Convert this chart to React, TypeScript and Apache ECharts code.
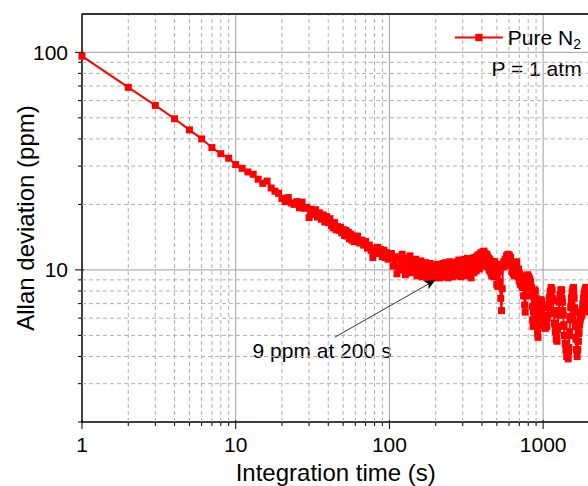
import React, { useEffect, useRef } from "react";
import * as echarts from "echarts";

const SERIES_NAME = "Pure N2";

// [integration time (s), Allan deviation (ppm)], in segments
const SEG_1_TO_24: [number, number][] = [
  [1, 96], [2, 69], [3, 57], [4, 49.5], [5, 44], [6, 40], [7, 36.5], [8, 34.2], [9, 32.6], [10, 30.5],
  [11, 29.3], [12, 28.2], [13, 27.5], [14, 26.1], [15, 25.0], [16, 25.6], [17, 23.8], [18, 23.0], [19, 22.5], [20, 21.3],
  [21, 20.6], [22, 21.5], [23, 20.3], [24, 20.0],
];
const SEG_25_TO_100: [number, number][] = [
  [25, 20.6], [26, 19.3], [27, 20.5], [28, 19.2], [29, 19.4], [30, 17.4], [31, 19.0], [32, 18.0], [33, 18.9], [34, 17.5],
  [35, 18.3], [36, 17.1], [37, 17.9], [38, 16.6], [39, 17.6], [40, 16.5], [41, 17.2], [42, 16.0], [43, 15.6], [44, 16.5],
  [45, 15.3], [46, 15.8], [47, 15.2], [48, 15.7], [49, 14.8], [50, 15.3], [51, 14.4], [52, 15.2], [53, 14.3], [54, 14.9],
  [55, 13.9], [56, 14.6], [57, 13.7], [58, 14.3], [59, 13.5], [60, 14.0], [62, 14.3], [64, 13.3], [66, 13.7], [68, 13.0],
  [70, 13.5], [72, 12.6], [74, 13.0], [76, 12.3], [78, 11.4], [80, 12.6], [82, 11.9], [84, 12.7], [86, 12.0], [88, 12.4],
  [90, 11.5], [92, 12.3], [94, 11.4], [96, 12.0], [98, 11.2], [100, 11.6],
];
const SEG_100_TO_500: [number, number][] = [
  [103, 11.9], [106, 10.4], [109, 11.5], [112, 9.6], [115, 11.2], [118, 10.0], [121, 11.8], [124, 10.5], [127, 9.5], [130, 11.3],
  [133, 10.2], [136, 11.6], [139, 9.7], [142, 10.9], [145, 9.9], [148, 11.2], [151, 9.4], [154, 10.6], [157, 10.0], [160, 11.0],
  [163, 9.3], [166, 10.5], [169, 9.7], [172, 10.8], [175, 9.2], [178, 10.4], [181, 9.6], [184, 10.7], [187, 9.2], [190, 10.2],
  [193, 9.4], [196, 10.5], [199, 9.2], [202, 9.9], [205, 10.6], [208, 9.3], [211, 10.1], [214, 9.2], [217, 10.4], [220, 9.5],
  [223, 10.7], [226, 9.3], [229, 10.0], [232, 10.8], [235, 9.5], [238, 10.4], [241, 9.2], [244, 10.2], [247, 10.9], [250, 9.6],
  [253, 10.5], [256, 9.3], [259, 10.3], [262, 9.5], [265, 10.8], [268, 9.7], [271, 10.5], [274, 9.4], [277, 10.9], [280, 9.8],
  [283, 11.1], [286, 9.5], [289, 10.6], [292, 9.3], [295, 11.0], [298, 9.9], [301, 10.8], [304, 9.5], [307, 11.2], [310, 10.0],
  [313, 9.4], [316, 10.9], [319, 9.8], [322, 11.3], [325, 10.1], [328, 9.4], [331, 11.0], [334, 9.9], [337, 11.2], [340, 9.2],
  [343, 10.7], [346, 11.3], [349, 9.9], [352, 11.1], [355, 9.7], [358, 11.4], [361, 10.2], [364, 11.2], [367, 9.9], [370, 11.5],
  [373, 10.3], [376, 11.7], [379, 10.5], [382, 11.4], [385, 10.1], [388, 11.8], [391, 10.6], [394, 12.0], [397, 10.8], [400, 11.9],
  [403, 10.6], [406, 12.1], [409, 11.0], [412, 12.2], [415, 10.9], [418, 11.9], [421, 10.5], [424, 11.6], [427, 10.4], [430, 11.8],
  [433, 10.6], [436, 11.5], [439, 10.3], [442, 11.3], [445, 10.0], [448, 11.2], [451, 9.9], [454, 11.0], [457, 9.7], [460, 10.8],
  [463, 9.4], [466, 10.6], [469, 10.9], [472, 9.6], [475, 10.7], [478, 9.3], [481, 10.5], [484, 10.9], [487, 9.8], [490, 10.6],
  [493, 9.5], [496, 10.4], [499, 8.6],
];
const SEG_500_TO_1000: [number, number][] = [
  [500, 10.2], [506, 8.4], [512, 9.8], [518, 10.6], [524, 8.8], [530, 7.4], [536, 6.5], [542, 8.2], [548, 10.3], [554, 10.9],
  [560, 10.4], [566, 11.2], [572, 10.6], [578, 11.6], [584, 10.9], [590, 11.8], [596, 11.1], [602, 11.7], [608, 10.8], [614, 11.4],
  [620, 10.5], [626, 9.8], [632, 10.6], [638, 9.6], [644, 10.4], [650, 9.4], [656, 10.3], [662, 10.8], [668, 10.2], [674, 10.9],
  [680, 10.0], [686, 9.3], [692, 10.1], [698, 8.9], [704, 9.6], [710, 8.6], [716, 9.4], [722, 8.5], [728, 9.2], [734, 8.3],
  [740, 8.9], [746, 7.6], [752, 8.4], [758, 6.9], [764, 6.4], [770, 7.6], [776, 8.6], [782, 9.3], [788, 8.7], [794, 9.5],
  [800, 8.9], [806, 9.3], [812, 8.6], [818, 9.1], [824, 8.2], [830, 8.8], [836, 7.6], [842, 8.3], [848, 6.8], [854, 5.9],
  [860, 5.5], [866, 6.4], [872, 7.5], [878, 8.1], [884, 7.3], [890, 8.0], [896, 6.9], [902, 7.4], [908, 6.2], [914, 5.6],
  [920, 5.1], [926, 4.9], [932, 5.5], [938, 6.4], [944, 7.0], [950, 6.2], [956, 7.2], [962, 6.6], [968, 7.3], [974, 6.5],
  [980, 7.2], [986, 6.1], [992, 6.7], [998, 5.8],
];
const SEG_1000_TO_2000: [number, number][] = [
  [1000, 6.0], [1008, 5.6], [1016, 5.9], [1024, 5.4], [1032, 5.7], [1040, 5.4], [1048, 5.8], [1056, 5.5], [1064, 6.0], [1072, 6.2],
  [1080, 6.7], [1088, 6.9], [1096, 7.4], [1104, 7.5], [1112, 8.0], [1120, 7.8], [1128, 8.3], [1136, 8.0], [1144, 8.1], [1152, 7.4],
  [1160, 7.2], [1168, 6.5], [1176, 6.3], [1184, 5.7], [1192, 5.6], [1200, 5.2], [1208, 5.2], [1216, 4.8], [1224, 4.9], [1232, 4.7],
  [1240, 5.3], [1248, 5.5], [1256, 6.2], [1264, 6.5], [1272, 7.1], [1280, 7.2], [1288, 7.7], [1296, 7.7], [1304, 8.1], [1312, 8.0],
  [1320, 8.1], [1328, 7.4], [1336, 7.1], [1344, 6.5], [1352, 6.2], [1360, 5.6], [1368, 5.5], [1376, 5.0], [1384, 5.0], [1392, 4.6],
  [1400, 4.6], [1408, 4.3], [1416, 4.3], [1424, 4.0], [1432, 4.2], [1440, 4.0], [1448, 4.1], [1456, 3.9], [1464, 4.2], [1472, 4.4],
  [1480, 5.0], [1488, 5.2], [1496, 5.9], [1504, 6.1], [1512, 6.7], [1520, 6.9], [1528, 7.4], [1536, 7.5], [1544, 7.9], [1552, 7.9],
  [1560, 8.2], [1568, 8.1], [1576, 8.3], [1584, 7.9], [1592, 7.4], [1600, 6.7], [1608, 6.4], [1616, 5.7], [1624, 5.5], [1632, 4.9],
  [1640, 4.8], [1648, 4.3], [1656, 4.3], [1664, 4.0], [1672, 4.3], [1680, 4.3], [1688, 4.7], [1696, 4.7], [1704, 5.1], [1712, 5.2],
  [1720, 5.6], [1728, 5.6], [1736, 6.0], [1744, 5.9], [1752, 6.2], [1760, 6.1], [1768, 6.4], [1776, 6.2], [1784, 6.3], [1792, 6.2],
  [1800, 6.6], [1808, 6.6], [1816, 7.0], [1824, 7.0], [1832, 7.4], [1840, 7.4], [1848, 7.7], [1856, 7.7], [1864, 8.0], [1872, 7.9],
  [1880, 8.2], [1888, 8.1], [1896, 8.3], [1904, 8.1], [1912, 8.2], [1920, 8.1], [1928, 8.3], [1936, 8.1], [1944, 8.2], [1952, 7.9],
  [1960, 7.7], [1968, 7.1], [1976, 7.0], [1984, 6.6], [1992, 6.7], [2000, 6.4],
];

const X_MIN = 1;
const X_MAX = 2000;
const Y_MIN = 2;
const Y_MAX = 150;
const X_MAJOR = [1, 10, 100, 1000];
const X_MINOR = [2, 3, 4, 5, 6, 7, 8, 9, 20, 30, 40, 50, 60, 70, 80, 90, 200, 300, 400, 500, 600, 700, 800, 900];
const Y_MAJOR = [10, 100];
const Y_MINOR = [2, 3, 4, 5, 6, 7, 8, 9, 20, 30, 40, 50, 60, 70, 80, 90];
const X_LABELS = ["1", "10", "100", "1000"];
const Y_LABELS = ["10", "100"];

const ARROW_FROM: [number, number] = [44, 4.9];
const ARROW_TO: [number, number] = [200, 9];
const NOTE = "9 ppm at 200 s";
const COND = "P = 1 atm";

const FONT = "'Liberation Sans', Arial, sans-serif";

function isLabel(v: number, labels: string[]) {
  return labels.some((l) => Math.abs(Number(l) - v) / Number(l) < 1e-6);
}

export default function App() {
  const ref = useRef<HTMLDivElement>(null);
  useEffect(() => {
    if (!ref.current) return;
    const chart = echarts.init(ref.current, undefined, { renderer: "svg" });
    const points = [
      ...SEG_1_TO_24,
      ...SEG_25_TO_100,
      ...SEG_100_TO_500,
      ...SEG_500_TO_1000,
      ...SEG_1000_TO_2000,
    ];

    const gridRender = (_params: any, api: any) => {
      const children: any[] = [];
      const minorStyle = { stroke: "#b0b0b0", lineWidth: 1, lineDash: [4, 3] };
      const majorStyle = { stroke: "#a0a0a0", lineWidth: 1 };
      const tickStyle = { stroke: "#000", lineWidth: 1 };
      const add = (a: number[], b: number[], style: any) =>
        children.push({ type: "line", shape: { x1: a[0], y1: a[1], x2: b[0], y2: b[1] }, style });
      X_MINOR.forEach((v) => {
        const a = api.coord([v, Y_MIN]);
        const b = api.coord([v, Y_MAX]);
        add(a, b, minorStyle);
        add(a, [a[0], a[1] + 4], tickStyle);
      });
      X_MAJOR.forEach((v) => {
        const a = api.coord([v, Y_MIN]);
        const b = api.coord([v, Y_MAX]);
        if (v !== X_MIN) add(a, b, majorStyle);
        add([a[0], a[1] - 2], [a[0], a[1] + 7], tickStyle);
      });
      Y_MINOR.forEach((v) => {
        const a = api.coord([X_MIN, v]);
        const b = api.coord([X_MAX, v]);
        if (v !== Y_MIN) add(a, b, minorStyle);
        add(a, [a[0] - 4, a[1]], tickStyle);
      });
      Y_MAJOR.forEach((v) => {
        const a = api.coord([X_MIN, v]);
        const b = api.coord([X_MAX, v]);
        add(a, b, majorStyle);
        add([a[0] + 2, a[1]], [a[0] - 7, a[1]], tickStyle);
      });
      const t0 = api.coord([X_MIN, Y_MAX]);
      const t1 = api.coord([X_MAX, Y_MAX]);
      add(t0, t1, { stroke: "#333", lineWidth: 2 });
      return { type: "group", children };
    };

    chart.setOption({
      animation: false,
      backgroundColor: "#fff",
      textStyle: { fontFamily: FONT },
      grid: { left: 82, top: 14, right: -1.4, bottom: 64, containLabel: false, outerBoundsMode: "none" },
      legend: {
        right: 2,
        top: 22,
        itemWidth: 48,
        itemHeight: 9,
        data: [SERIES_NAME],
        formatter: () => "{main|Pure N}{sub|2}",
        textStyle: {
          fontFamily: FONT,
          color: "#000",
          rich: {
            main: { fontSize: 21, lineHeight: 26, fontFamily: FONT, color: "#000" },
            sub: { fontSize: 14, lineHeight: 8, verticalAlign: "bottom", fontFamily: FONT, color: "#000" },
          },
        },
      },
      xAxis: {
        type: "log",
        logBase: 10,
        min: X_MIN,
        max: X_MAX,
        name: "Integration time (s)",
        nameLocation: "middle",
        nameGap: 38,
        nameMoveOverlap: false,
        nameTextStyle: { fontSize: 24, color: "#000", fontFamily: FONT },
        axisLine: { show: true, lineStyle: { color: "#000", width: 1.5 } },
        axisTick: { show: false },
        splitLine: { show: false },
        axisLabel: {
          fontSize: 21,
          color: "#000",
          margin: 12,
          fontFamily: FONT,
          formatter: (v: number) => (isLabel(v, X_LABELS) ? String(Math.round(v)) : ""),
        },
      },
      yAxis: {
        type: "log",
        logBase: 10,
        min: Y_MIN,
        max: Y_MAX,
        name: "Allan deviation (ppm)",
        nameLocation: "middle",
        nameGap: 45,
        nameMoveOverlap: false,
        nameTextStyle: { fontSize: 24, color: "#000", fontFamily: FONT },
        axisLine: { show: true, lineStyle: { color: "#000", width: 1.5 } },
        axisTick: { show: false },
        splitLine: { show: false },
        axisLabel: {
          fontSize: 21,
          color: "#000",
          margin: 14,
          fontFamily: FONT,
          formatter: (v: number) => (isLabel(v, Y_LABELS) ? String(Math.round(v)) : ""),
        },
      },
      graphic: [
        {
          type: "text",
          right: 6,
          top: 58,
          style: { text: COND, fontSize: 21, fill: "#000", fontFamily: FONT },
        },
        {
          type: "text",
          x: 322,
          y: 350,
          style: {
            text: NOTE,
            fontSize: 21,
            fill: "#000",
            fontFamily: FONT,
            textAlign: "center",
            textVerticalAlign: "middle",
          },
        },
      ],
      series: [
        {
          type: "custom",
          name: "grid",
          silent: true,
          z: 1,
          data: [[X_MIN, Y_MIN]],
          encode: { x: 0, y: 1 },
          renderItem: gridRender,
        },
        {
          type: "line",
          name: SERIES_NAME,
          z: 3,
          data: points,
          symbol: "rect",
          symbolSize: 7,
          showAllSymbol: true,
          color: "#ff0000",
          lineStyle: { color: "#ff0000", width: 2 },
          itemStyle: { color: "#ff0000" },
          markLine: {
            silent: true,
            symbol: ["none", "arrow"],
            symbolSize: [7, 11],
            label: { show: false },
            lineStyle: { color: "#000", width: 0.8, type: "solid" },
            data: [[{ coord: ARROW_FROM }, { coord: ARROW_TO }]],
          },
        },
      ],
    });
    return () => chart.dispose();
  }, []);
  return (
    <div
      ref={ref}
      style={{ position: "absolute", left: 0, top: 0, width: 588, height: 486, background: "#fff" }}
    />
  );
}
